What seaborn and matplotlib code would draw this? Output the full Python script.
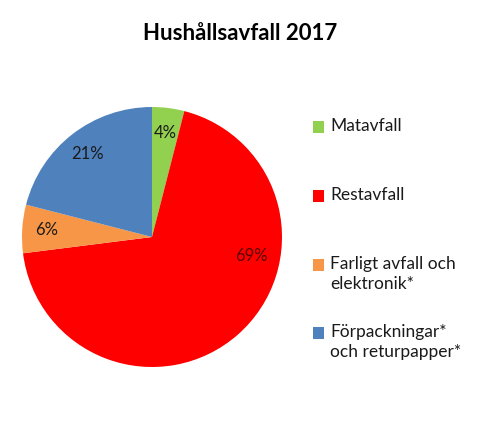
import numpy as np
import matplotlib
matplotlib.use("Agg")
import matplotlib.pyplot as plt
import seaborn as sns
from matplotlib.patches import Rectangle

# data
kategorier = ["Matavfall", "Restavfall", "Farligt avfall och\nelektronik*",
              "Förpackningar*\noch returpapper*"]
andelar = [4, 69, 6, 21]
farger = ["#92D050", "#FF0000", "#F79646", "#4F81BD"]
titel = "Hushållsavfall 2017"

sns.set_theme(style="white")
plt.rcParams['font.family'] = ['Lato', 'DejaVu Sans']

W, H = 482, 425
fig = plt.figure(figsize=(W / 100, H / 100), dpi=100)

# pie axes: centre (152, 237), radius 130 px
cx, cy, r = 152, 237, 130
ax = fig.add_axes([(cx - r) / W, (H - cy - r) / H, 2 * r / W, 2 * r / H])
pal = sns.color_palette(farger)
wedges, texts, autotexts = ax.pie(andelar, colors=pal, startangle=90, counterclock=False,
                                  autopct='%.0f%%', pctdistance=0.81, radius=1,
                                  wedgeprops={'linewidth': 0},
                                  textprops={'fontsize': 12, 'color': '#1a1a1a'})
ax.set_xlim(-1, 1)
ax.set_ylim(-1, 1)
ax.set_aspect('equal')

# Excel "best fit" puts the big slice label further round
ang = np.deg2rad(-11)
autotexts[1].set_position((0.78 * np.cos(ang), 0.78 * np.sin(ang)))
autotexts[1].set_color('#5a0000')

fig.text(240 / W, 1 - 33 / H, titel, ha='center', va='center',
         fontsize=16, fontweight='bold', color='black')

# legend, drawn by hand so the box lines up with the first text line
leg_y = [127, 196, 265, 333]
for lab, col, y in zip(kategorier, pal, leg_y):
    fig.patches.append(Rectangle((313 / W, 1 - (y + 6) / H), 11 / W, 12 / H,
                                 transform=fig.transFigure, facecolor=col,
                                 edgecolor='none'))
    fig.text(330 / W, 1 - (y - 9) / H, lab, ha='left', va='top', fontsize=12.5,
             color='#1a1a1a', linespacing=1.3)

fig.savefig("out.png", dpi=100, facecolor='white')
